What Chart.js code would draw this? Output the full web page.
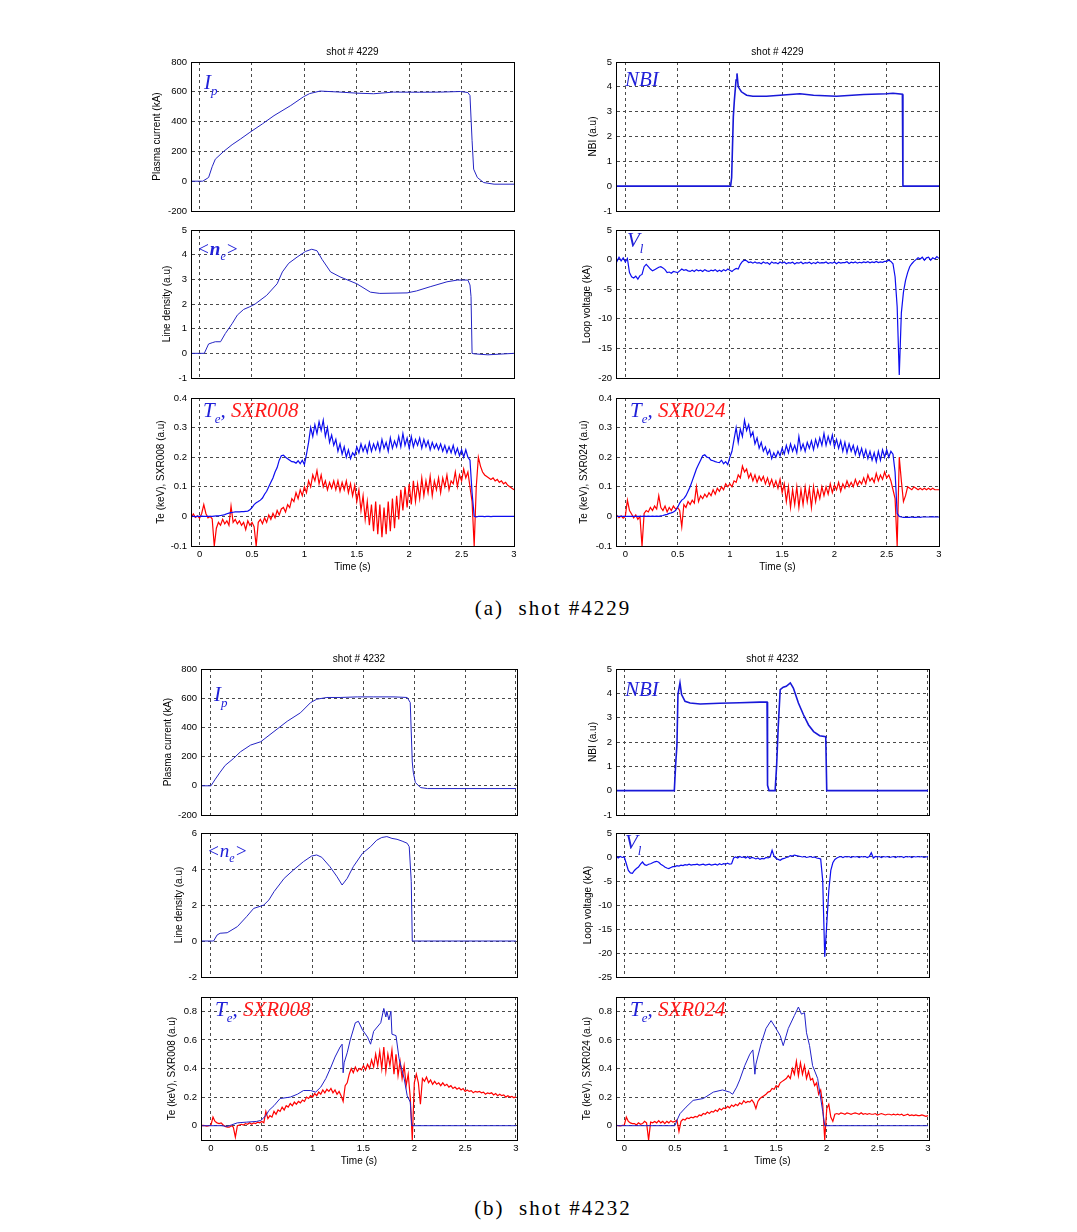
<!DOCTYPE html>
<html>
<head>
<meta charset="utf-8">
<script src="https://cdn.jsdelivr.net/npm/chart.js@4.4.1/dist/chart.umd.min.js"></script>
<style>
  body { margin: 0; background: #fff; }
  #page { position: relative; width: 1077px; height: 1232px; background: #fff; overflow: hidden; }
  .cap { position: absolute; left: 453px; width: 200px; text-align: center; font: 21px "Liberation Serif", "DejaVu Serif", serif; letter-spacing: 2px; white-space: pre; color: #000; }
</style>
</head>
<body>
<div id="page">
  <div class="cap" style="top:596px">(a)  shot #4229</div>
  <div class="cap" style="top:1196px">(b)  shot #4232</div>
</div>
<script>
// ---- tick labels ----
var timeTicks = [0, 0.5, 1, 1.5, 2, 2.5, 3];
var ipTicks = [-200, 0, 200, 400, 600, 800];
var nbiTicks = [-1, 0, 1, 2, 3, 4, 5];
var neTicksA = [-1, 0, 1, 2, 3, 4, 5];
var vlTicksA = [-20, -15, -10, -5, 0, 5];
var teTicksA = [-0.1, 0, 0.1, 0.2, 0.3, 0.4];
var neTicksB = [-2, 0, 2, 4, 6];
var vlTicksB = [-25, -20, -15, -10, -5, 0, 5];
var teTicksB = [0, 0.2, 0.4, 0.6, 0.8];

// ---- shot 4229, smooth signals ----
var ipTimeA = [-0.1,0.03,0.086,0.12,0.15,0.23,0.31,0.39,0.48,0.6,0.71,0.87,0.99,1.05,1.15,1.34,1.5,1.66,1.85,2.1,2.3,2.49,2.56,2.58,2.6,2.615,2.65,2.71,2.81,3];
var ipA = [0,0,25,97,148,200,245,283,328,385,440,508,566,588,605,598,591,587,598,597,598,602,595,575,272,81,25,-9,-20,-20];
var nbiTimeA = [-0.1,1.007,1.017,1.033,1.043,1.059,1.068,1.08,1.11,1.16,1.22,1.35,1.48,1.67,1.8,2.02,2.28,2.5,2.56,2.65,2.655,3];
var nbiA = [0,0,0.35,2.8,3.46,4.27,4.54,4.0,3.8,3.66,3.62,3.62,3.66,3.72,3.66,3.62,3.69,3.72,3.74,3.7,0,0];
var neTimeA = [-0.1,0.045,0.086,0.12,0.15,0.2,0.245,0.31,0.36,0.42,0.48,0.53,0.64,0.74,0.79,0.85,0.93,1.01,1.07,1.12,1.17,1.25,1.34,1.5,1.63,1.72,1.98,2.07,2.2,2.36,2.46,2.56,2.58,2.59,2.6,2.62,2.75,3];
var neA = [0,0,0.38,0.43,0.47,0.47,0.8,1.2,1.55,1.78,1.89,2.0,2.35,2.82,3.3,3.65,3.9,4.13,4.22,4.16,3.8,3.3,3.1,2.82,2.48,2.43,2.45,2.53,2.7,2.9,2.97,2.97,2.77,2.3,0,-0.02,-0.06,0];

// ---- shot 4232, smooth signals ----
var ipTimeB = [-0.1,0,0.043,0.09,0.14,0.22,0.29,0.39,0.49,0.62,0.75,0.88,0.98,1.04,1.14,1.27,1.44,1.6,1.8,1.93,1.96,1.98,1.99,2.01,2.06,2.13,3];
var ipB = [0,0,46,93,140,186,233,279,302,372,442,500,570,593,605,605,609,609,609,605,570,163,93,23,-12,-19,-19];
var nbiTimeB = [-0.1,0.494,0.507,0.52,0.53,0.55,0.566,0.6,0.65,0.75,0.94,1.14,1.34,1.41,1.415,1.43,1.49,1.505,1.52,1.54,1.57,1.6,1.64,1.67,1.72,1.77,1.82,1.87,1.93,1.99,2.0,3];
var nbiB = [0,0,1.05,1.88,3.95,4.43,3.95,3.67,3.6,3.56,3.59,3.61,3.64,3.64,0.22,0,0,1.05,2.57,4.15,4.25,4.29,4.43,4.22,3.6,3.12,2.7,2.43,2.26,2.22,0,0];
var neTimeB = [-0.1,0.026,0.06,0.09,0.16,0.26,0.35,0.42,0.49,0.52,0.57,0.62,0.72,0.81,0.91,0.99,1.04,1.09,1.17,1.24,1.29,1.34,1.4,1.49,1.57,1.63,1.68,1.73,1.78,1.83,1.88,1.93,1.95,1.97,1.98,3];
var neB = [0,0,0.33,0.43,0.46,0.8,1.35,1.81,1.94,2.0,2.28,2.74,3.48,3.94,4.41,4.72,4.78,4.65,4.13,3.57,3.11,3.48,4.13,4.87,5.24,5.6,5.75,5.8,5.7,5.65,5.55,5.43,5.24,3.3,0,0];
var teTimeB008 = [-0.1,0.1,0.16,0.2,0.26,0.35,0.45,0.49,0.54,0.57,0.62,0.68,0.78,0.85,0.91,0.98,1.03,1.08,1.13,1.18,1.22,1.27,1.29,1.3,1.31,1.34,1.37,1.42,1.45,1.49,1.54,1.57,1.6,1.67,1.7,1.72,1.73,1.75,1.77,1.78,1.82,1.85,1.9,1.93,1.96,1.975,3];
var teB008 = [0,0,-0.005,0.005,0.02,0.025,0.03,0.037,0.07,0.107,0.14,0.19,0.2,0.22,0.246,0.246,0.235,0.27,0.33,0.41,0.48,0.55,0.57,0.37,0.44,0.51,0.6,0.72,0.73,0.67,0.62,0.57,0.66,0.72,0.82,0.76,0.8,0.74,0.8,0.64,0.63,0.47,0.33,0.21,0.165,0,0];
var teTimeB024 = [-0.1,0.5,0.52,0.55,0.61,0.68,0.78,0.88,0.97,1.04,1.07,1.11,1.14,1.19,1.24,1.27,1.29,1.3,1.35,1.4,1.45,1.49,1.54,1.57,1.62,1.68,1.72,1.75,1.78,1.8,1.83,1.86,1.91,1.96,1.98,3];
var teB024 = [0,0,0.037,0.084,0.13,0.177,0.19,0.235,0.25,0.235,0.22,0.27,0.32,0.42,0.5,0.53,0.36,0.43,0.57,0.68,0.735,0.69,0.63,0.56,0.68,0.77,0.83,0.78,0.79,0.65,0.56,0.42,0.33,0.1,0,0];

// ---- sampling times of the noisy signals (s) ----
var noiseTime = [
-.1,-.08,-.06,-.04,-.02,0,.02,.04,.06,.08,
.1,.12,.14,.16,.18,.2,.22,.24,.26,.28,
.3,.32,.34,.36,.38,.4,.42,.44,.46,.48,
.5,.52,.54,.56,.58,.6,.62,.64,.66,.68,
.7,.72,.74,.76,.78,.8,.82,.84,.86,.88,
.9,.92,.94,.96,.98,1,1.02,1.04,1.06,1.08,
1.1,1.12,1.14,1.16,1.18,1.2,1.22,1.24,1.26,1.28,
1.3,1.32,1.34,1.36,1.38,1.4,1.42,1.44,1.46,1.48,
1.5,1.52,1.54,1.56,1.58,1.6,1.62,1.64,1.66,1.68,
1.7,1.72,1.74,1.76,1.78,1.8,1.82,1.84,1.86,1.88,
1.9,1.92,1.94,1.96,1.98,2,2.02,2.04,2.06,2.08,
2.1,2.12,2.14,2.16,2.18,2.2,2.22,2.24,2.26,2.28,
2.3,2.32,2.34,2.36,2.38,2.4,2.42,2.44,2.46,2.48,
2.5,2.52,2.54,2.56,2.58,2.6,2.62,2.64,2.66,2.68,
2.7,2.72,2.74,2.76,2.78,2.8,2.82,2.84,2.86,2.88,
2.9,2.92,2.94,2.96,2.98,3];

// shot 4229 loop voltage
var vlA = [
.1,-.3,.4,-.2,.3,-.4,.2,-2.2,-2.9,-3.1,
-2.8,-3.3,-2.7,-2.5,-1.2,-.8,-1.2,-1.6,-1.9,-1.7,
-1.5,-1.3,-1.2,-1.4,-1.7,-2.2,-2.1,-2.3,-2,-2.1,
-2.2,-1.9,-1.6,-1.8,-1.7,-1.9,-2,-1.8,-2,-1.7,
-1.9,-1.8,-2.0,-1.7,-1.9,-2.0,-1.8,-1.9,-1.7,-2.0,
-1.8,-2.0,-1.7,-1.9,-1.6,-1.8,-2.0,-1.7,-1.5,-1.6,
-.8,-.3,-.1,-.2,-.5,-.4,-.6,-.4,-.6,-.5,
-.7,-.4,-.6,-.5,-.8,-.4,-.6,-.5,-.7,-.4,
-.6,-.4,-.7,-.5,-.6,-.45,-.75,-.5,-.6,-.4,
-.7,-.5,-.6,-.45,-.7,-.5,-.65,-.4,-.6,-.5,
-.55,-.4,-.65,-.5,-.6,-.4,-.7,-.45,-.6,-.5,
-.5,-.35,-.65,-.45,-.55,-.4,-.6,-.45,-.55,-.4,
-.5,-.35,-.55,-.4,-.5,-.3,-.5,-.4,-.45,-.3,
-.3,-.1,-.3,-.7,-2.9,-8,-19.5,-9,-5.5,-3.5,
-2.2,-1.2,-.7,-.3,0,.3,.1,.4,-.1,.3,
.4,-.1,.3,.1,.5,.2];

// shot 4229 electron temperature (keV) and SXR channels (a.u.)
var teA008 = [
0,.001,0,-.001,0,0,.001,0,0,0,
0,0,.001,.002,.002,.003,.004,.006,.009,.011,
.013,.014,.015,.015,.015,.016,.016,.017,.018,.022,
.03,.04,.046,.05,.055,.062,.075,.085,.1,.115,
.13,.15,.165,.19,.205,.207,.2,.195,.19,.185,
.184,.18,.188,.178,.19,.175,.21,.25,.3,.27,
.31,.28,.32,.29,.325,.27,.3,.25,.275,.24,
.26,.22,.245,.21,.235,.2,.225,.195,.215,.205,
.235,.215,.245,.22,.24,.215,.25,.22,.245,.225,
.25,.22,.26,.23,.25,.22,.265,.23,.255,.235,
.27,.235,.28,.24,.265,.23,.27,.235,.26,.24,
.265,.23,.26,.235,.255,.225,.25,.23,.245,.225,
.245,.22,.24,.215,.235,.215,.24,.21,.23,.205,
.225,.2,.225,.2,.19,.08,0,-.002,0,0,
0,-.001,0,0,-.001,0,0,0,0,0,
0,0,0,0,0,0];
var sxrA008 = [
.005,-.005,.008,-.003,.002,-.006,.01,.04,.01,-.005,
0,-.008,-.1,-.04,-.02,-.03,-.01,-.025,-.015,-.03,
.035,-.02,-.01,-.025,-.015,-.03,-.02,-.045,-.015,-.03,
-.02,-.035,-.1,-.02,-.01,-.025,-.005,-.02,.005,-.01,
.01,-.005,.02,.005,.025,.03,.015,.04,.03,.06,
.05,.08,.06,.09,.07,.1,.08,.12,.1,.14,
.12,.155,.11,.14,.1,.12,.09,.115,.095,.12,
.09,.12,.085,.115,.09,.12,.08,.11,.07,.105,
.05,.09,.02,.07,-.01,.05,-.03,.04,-.05,.05,
-.06,.04,-.07,.03,-.06,.05,-.05,.06,-.04,.07,
-.01,.09,.02,.1,.03,.11,.04,.12,.05,.11,
.06,.13,.07,.12,.08,.135,.07,.12,.09,.13,
.08,.13,.1,.14,.09,.12,.11,.15,.1,.14,
.12,.16,.13,.15,.1,.05,-.1,.1,.2,.17,
.15,.14,.135,.13,.125,.13,.12,.125,.115,.12,
.11,.115,.105,.1,.095,.09];
var teA024 = [
0,0,0,0,0,0,0,0,0,0,
0,0,0,0,.001,0,.001,0,.001,0,
.001,0,.002,.003,.005,.007,.01,.012,.015,.02,
.03,.045,.055,.06,.07,.085,.1,.12,.14,.16,
.175,.19,.205,.208,.2,.198,.19,.188,.185,.183,
.182,.19,.178,.185,.175,.2,.22,.26,.3,.25,
.295,.27,.325,.29,.31,.27,.285,.245,.265,.23,
.25,.22,.235,.21,.225,.195,.215,.2,.22,.205,
.23,.21,.24,.215,.245,.22,.24,.215,.27,.225,
.245,.22,.25,.23,.255,.225,.26,.235,.265,.24,
.28,.24,.27,.245,.275,.235,.26,.23,.255,.22,
.25,.215,.245,.22,.24,.21,.235,.205,.23,.2,
.225,.195,.22,.19,.215,.185,.22,.19,.225,.2,
.225,.2,.22,.21,.15,.01,0,-.002,-.003,-.003,
-.003,-.003,-.002,-.003,-.003,-.002,-.003,-.002,-.002,-.002,
-.002,-.002,-.001,-.002,-.002,-.002];
var sxrA024 = [
0,.003,-.004,.002,-.006,0,.055,.02,.008,-.005,
.005,-.01,0,-.1,.01,.02,.015,.03,.02,.035,
.025,.07,.03,.02,.035,.015,.03,.02,.035,.025,
.03,.02,-.035,.04,.03,.05,.04,.055,.045,.1,
.05,.07,.06,.075,.065,.08,.07,.09,.075,.095,
.085,.1,.09,.11,.1,.11,.1,.12,.115,.14,
.13,.17,.15,.16,.13,.145,.12,.14,.115,.135,
.12,.135,.11,.13,.105,.125,.1,.12,.095,.125,
.08,.11,.05,.1,.03,.09,.04,.1,.03,.09,
.04,.1,.05,.095,.03,.1,.05,.09,.06,.1,
.07,.1,.075,.11,.08,.105,.09,.115,.085,.11,
.095,.12,.1,.115,.1,.125,.105,.12,.11,.13,
.11,.14,.12,.13,.115,.145,.12,.14,.125,.15,
.13,.14,.12,.09,.06,-.1,.2,.12,.05,.07,
.1,.095,.09,.1,.095,.09,.095,.09,.095,.09,
.095,.09,.095,.09,.09,.09];

// shot 4232 loop voltage and SXR channels
var vlB = [
0,.2,-.2,.1,-.1,0,-1.4,-2.8,-3.3,-3.4,
-2.8,-2.4,-2.1,-1.5,-1.05,-1.6,-1.75,-1.5,-1.4,-1.2,
-1.0,-.9,-1.1,-1.5,-1.75,-2.1,-2.3,-2.4,-2.2,-2.0,
-2.0,-1.8,-1.9,-1.7,-1.8,-1.6,-1.7,-1.5,-1.7,-1.6,
-1.6,-1.5,-1.7,-1.6,-1.5,-1.7,-1.6,-1.5,-1.7,-1.6,
-1.5,-1.7,-1.4,-1.6,-1.4,-1.5,-1.3,-1.5,-1.4,-.2,
0,-.2,.1,-.1,0,-.2,.1,-.3,-.1,-.2,
-.4,-.2,-.5,-.3,-.4,-.1,-.2,0,1.4,.1,
-.3,-.5,-.7,-.4,-.3,-.1,0,.3,.2,.4,
.3,.2,.1,0,.1,-.1,0,.1,-.1,0,
-.2,-.3,-.4,-4.9,-20.8,-14,-7,-2.8,-1.2,-.5,
-.2,0,.1,-.1,.1,0,.1,-.1,.1,0,
.1,-.1,.1,0,.1,-.1,.1,.9,-.2,.1,
0,.1,-.1,.1,0,.1,-.1,0,.1,-.1,
.1,0,.1,-.1,.1,0,.1,-.1,.1,0,
.1,0,.1,-.1,0,.1];
var sxrB008 = [
0,.002,0,-.003,0,.005,.06,.03,.02,.015,
.02,.005,-.005,-.01,-.01,0,-.01,-.08,0,.005,
.01,.005,.015,.01,.02,.01,.02,.015,.025,.02,
.03,.02,.1,.05,.07,.06,.1,.08,.11,.1,
.13,.11,.14,.13,.155,.14,.165,.15,.17,.16,
.18,.17,.2,.19,.21,.2,.225,.21,.235,.22,
.25,.23,.255,.24,.26,.23,.25,.22,.24,.21,
.17,.28,.3,.36,.4,.37,.41,.38,.4,.39,
.42,.39,.43,.4,.46,.41,.5,.42,.52,.4,
.55,.38,.5,.42,.53,.36,.5,.35,.45,.33,
.42,.28,.36,.2,-.1,.3,.36,.3,.15,.33,
.31,.34,.3,.32,.29,.31,.29,.3,.28,.3,
.28,.29,.27,.28,.26,.27,.255,.265,.25,.26,
.24,.25,.24,.245,.23,.24,.235,.24,.23,.235,
.22,.23,.225,.23,.215,.225,.21,.22,.21,.215,
.2,.21,.2,.205,.195,.205];
var sxrB024 = [
0,.003,0,-.002,.002,.005,.06,.03,.02,.015,
.015,.005,.02,.01,.015,.03,.02,-.1,.025,.02,
.03,.02,.035,.02,.03,.015,.03,.02,.035,.025,
.03,.04,-.04,.03,.045,.04,.055,.05,.06,.055,
.065,.06,.075,.07,.085,.08,.095,.085,.1,.095,
.11,.1,.12,.11,.125,.12,.135,.125,.145,.135,
.15,.14,.16,.15,.175,.16,.17,.165,.18,.16,
.12,.17,.19,.2,.21,.22,.235,.24,.26,.255,
.28,.27,.3,.31,.32,.33,.35,.33,.4,.36,
.45,.35,.44,.36,.42,.33,.38,.32,.33,.28,
.3,.22,.25,.15,-.1,.12,.15,.06,.03,.08,
.085,.08,.09,.085,.08,.09,.085,.08,.085,.09,
.085,.08,.09,.08,.085,.08,.085,.08,.08,.085,
.075,.08,.085,.08,.075,.08,.08,.075,.08,.075,
.08,.075,.08,.07,.075,.08,.07,.075,.07,.075,
.07,.07,.075,.07,.065,.07];

var NAVY = '#2424c4';
var BLUE = '#0d0df0';
var RED = '#ff0000';
var LBLUE = '#2020d8';
var LRED = '#ff1a1a';

function pts(t, v) {
    return t.map(function (x, i) { return {x: x, y: v[i]}; });
}

function teLabel(ch) {
    return [{text: 'T', color: LBLUE}, {text: 'e', sub: true, color: LBLUE},
            {text: ', ', color: LBLUE}, {text: ch, color: LRED}];
}

var panels = [
    {box: [191, 62, 323, 149], xr: [-0.082, 3], yr: [-200, 800], yt: ipTicks, ytitle: 'Plasma current (kA)', toff: 10,
     title: 'shot # 4229', series: [[ipTimeA, ipA, NAVY, 1]],
     label: {dx: 13, dy: 27, size: 21, parts: [{text: 'I', color: LBLUE}, {text: 'p', sub: true, color: LBLUE}]}},
    {box: [616, 62, 323, 149], xr: [-0.089, 3], yr: [-1, 5], yt: nbiTicks, ytitle: 'NBI (a.u)', toff: 21,
     title: 'shot # 4229', series: [[nbiTimeA, nbiA, '#1818d8', 1.6]],
     label: {dx: 9, dy: 24, size: 21, parts: [{text: 'NBI', color: LBLUE}]}},
    {box: [191, 230, 323, 148], xr: [-0.082, 3], yr: [-1, 5], yt: neTicksA, ytitle: 'Line density (a.u)', toff: 20,
     series: [[neTimeA, neA, NAVY, 1]],
     label: {dx: 6, dy: 25, size: 19, parts: [{text: '<', color: LBLUE}, {text: 'n', color: LBLUE, bold: true},
                                             {text: 'e', sub: true, color: LBLUE}, {text: '>', color: LBLUE}]}},
    {box: [616, 230, 323, 148], xr: [-0.089, 3], yr: [-20, 5], yt: vlTicksA, ytitle: 'Loop voltage (kA)', toff: 15,
     series: [[noiseTime, vlA, BLUE, 1.2]],
     label: {dx: 11, dy: 17, size: 21, parts: [{text: 'V', color: LBLUE}, {text: 'l', sub: true, color: LBLUE}]}},
    {box: [191, 398, 323, 148], xr: [-0.082, 3], yr: [-0.1, 0.4], yt: teTicksA, ytitle: 'Te (keV), SXR008 (a.u)', toff: 14,
     bottom: true, series: [[noiseTime, teA008, BLUE, 1.2], [noiseTime, sxrA008, RED, 1.2]],
     label: {dx: 12, dy: 19, size: 21, parts: teLabel('SXR008')}},
    {box: [616, 398, 323, 148], xr: [-0.089, 3], yr: [-0.1, 0.4], yt: teTicksA, ytitle: 'Te (keV), SXR024 (a.u)', toff: 12,
     bottom: true, series: [[noiseTime, teA024, BLUE, 1.2], [noiseTime, sxrA024, RED, 1.2]],
     label: {dx: 14, dy: 19, size: 21, parts: teLabel('SXR024')}},

    {box: [201, 669, 316, 146], xr: [-0.098, 3.01], yr: [-200, 800], yt: ipTicks, ytitle: 'Plasma current (kA)', toff: 11,
     title: 'shot # 4232', series: [[ipTimeB, ipB, NAVY, 1]],
     label: {dx: 13, dy: 32, size: 21, parts: [{text: 'I', color: LBLUE}, {text: 'p', sub: true, color: LBLUE}]}},
    {box: [616, 669, 313, 146], xr: [-0.082, 3.01], yr: [-1, 5], yt: nbiTicks, ytitle: 'NBI (a.u)', toff: 21,
     title: 'shot # 4232', series: [[nbiTimeB, nbiB, '#1818d8', 1.6]],
     label: {dx: 9, dy: 27, size: 21, parts: [{text: 'NBI', color: LBLUE}]}},
    {box: [201, 833, 316, 144], xr: [-0.098, 3.01], yr: [-2, 6], yt: neTicksB, ytitle: 'Line density (a.u)', toff: 22,
     series: [[neTimeB, neB, NAVY, 1]],
     label: {dx: 6, dy: 24, size: 19, parts: [{text: '<', color: LBLUE}, {text: 'n', color: LBLUE},
                                             {text: 'e', sub: true, color: LBLUE}, {text: '>', color: LBLUE}]}},
    {box: [616, 833, 313, 144], xr: [-0.082, 3.01], yr: [-25, 5], yt: vlTicksB, ytitle: 'Loop voltage (kA)', toff: 16,
     series: [[noiseTime, vlB, BLUE, 1.2]],
     label: {dx: 9, dy: 16, size: 21, parts: [{text: 'V', color: LBLUE}, {text: 'l', sub: true, color: LBLUE}]}},
    {box: [201, 997, 316, 143], xr: [-0.098, 3.01], yr: [-0.1, 0.9], yt: teTicksB, ytitle: 'Te (keV), SXR008 (a.u)', toff: 15,
     bottom: true, series: [[teTimeB008, teB008, '#2020c8', 1], [noiseTime, sxrB008, RED, 1.2]],
     label: {dx: 14, dy: 19, size: 21, parts: teLabel('SXR008')}},
    {box: [616, 997, 313, 143], xr: [-0.082, 3.01], yr: [-0.1, 0.9], yt: teTicksB, ytitle: 'Te (keV), SXR024 (a.u)', toff: 15,
     bottom: true, series: [[teTimeB024, teB024, '#2020c8', 1], [noiseTime, sxrB024, RED, 1.2]],
     label: {dx: 14, dy: 19, size: 21, parts: teLabel('SXR024')}}
];

var SANS = '"Liberation Sans", Arial, sans-serif';
var SERIF = '"Liberation Serif", "DejaVu Serif", serif';

// box, title and italic annotation of each panel
var frame = {
    id: 'frame',
    afterDraw: function (chart) {
        var p = chart.config.options.panel;
        var a = chart.chartArea;
        var ctx = chart.ctx;
        ctx.save();
        ctx.strokeStyle = '#000';
        ctx.lineWidth = 1;
        ctx.strokeRect(Math.round(a.left) + 0.5, Math.round(a.top) + 0.5,
                       Math.round(a.right - a.left), Math.round(a.bottom - a.top));
        if (p.title) {
            ctx.font = '10px ' + SANS;
            ctx.fillStyle = '#000';
            ctx.textAlign = 'center';
            ctx.textBaseline = 'middle';
            ctx.fillText(p.title, (a.left + a.right) / 2, a.top - 10);
        }
        var lab = p.label;
        var x = a.left + lab.dx;
        var y = a.top + lab.dy;
        ctx.textAlign = 'left';
        ctx.textBaseline = 'alphabetic';
        lab.parts.forEach(function (part) {
            var size = part.sub ? Math.round(lab.size * 0.62) : lab.size;
            ctx.font = 'italic ' + (part.bold ? 'bold ' : '') + size + 'px ' + SERIF;
            ctx.fillStyle = part.color;
            ctx.fillText(part.text, x, y + (part.sub ? lab.size * 0.28 : 0));
            x += ctx.measureText(part.text).width;
        });
        ctx.restore();
    }
};

var page = document.getElementById('page');

panels.forEach(function (p) {
    var padL = 50, padT = 20, padR = 10;
    var padB = p.bottom ? 32 : 14;
    var w = p.box[2] + padL + padR;
    var h = p.box[3] + padT + padB;
    var c = document.createElement('canvas');
    c.width = w;
    c.height = h;
    c.style.cssText = 'position:absolute;left:' + (p.box[0] - padL) + 'px;top:' + (p.box[1] - padT) +
                      'px;width:' + w + 'px;height:' + h + 'px';
    page.appendChild(c);

    var grid = {color: '#4a4a4a', lineWidth: 1, drawTicks: false};
    var border = {display: true, color: '#000', width: 1, dash: [3, 3]};

    new Chart(c, {
        type: 'line',
        data: {
            datasets: p.series.map(function (s) {
                return {
                    data: pts(s[0], s[1]),
                    borderColor: s[2],
                    borderWidth: s[3],
                    pointRadius: 0,
                    tension: 0,
                    fill: false
                };
            })
        },
        options: {
            panel: p,
            responsive: false,
            animation: false,
            events: [],
            layout: {padding: {top: padT, right: padR, left: 0, bottom: 0}},
            plugins: {legend: {display: false}, tooltip: {enabled: false}, title: {display: false}},
            scales: {
                x: {
                    type: 'linear',
                    min: p.xr[0],
                    max: p.xr[1],
                    grid: grid,
                    border: border,
                    ticks: {
                        display: !!p.bottom,
                        padding: 3,
                        color: '#000',
                        font: {family: SANS, size: 9.5},
                        maxRotation: 0,
                        autoSkip: false,
                        callback: function (v) { return String(v); }
                    },
                    title: {
                        display: !!p.bottom,
                        text: 'Time (s)',
                        color: '#000',
                        font: {family: SANS, size: 10, lineHeight: 1.2},
                        padding: {top: 0, bottom: 5}
                    },
                    afterBuildTicks: function (s) {
                        s.ticks = timeTicks.map(function (v) { return {value: v}; });
                    },
                    afterFit: function (s) { s.height = padB; }
                },
                y: {
                    type: 'linear',
                    min: p.yr[0],
                    max: p.yr[1],
                    grid: grid,
                    border: border,
                    ticks: {
                        padding: 4,
                        color: '#000',
                        font: {family: SANS, size: 9.5},
                        autoSkip: false,
                        callback: function (v) { return String(v); }
                    },
                    title: {
                        display: true,
                        text: p.ytitle,
                        color: '#000',
                        font: {family: SANS, size: 10, lineHeight: 1.2},
                        padding: {top: p.toff, bottom: 0}
                    },
                    afterBuildTicks: function (s) {
                        s.ticks = p.yt.map(function (v) { return {value: v}; });
                    },
                    afterFit: function (s) { s.width = padL; }
                }
            }
        },
        plugins: [frame]
    });
});
</script>
</body>
</html>
